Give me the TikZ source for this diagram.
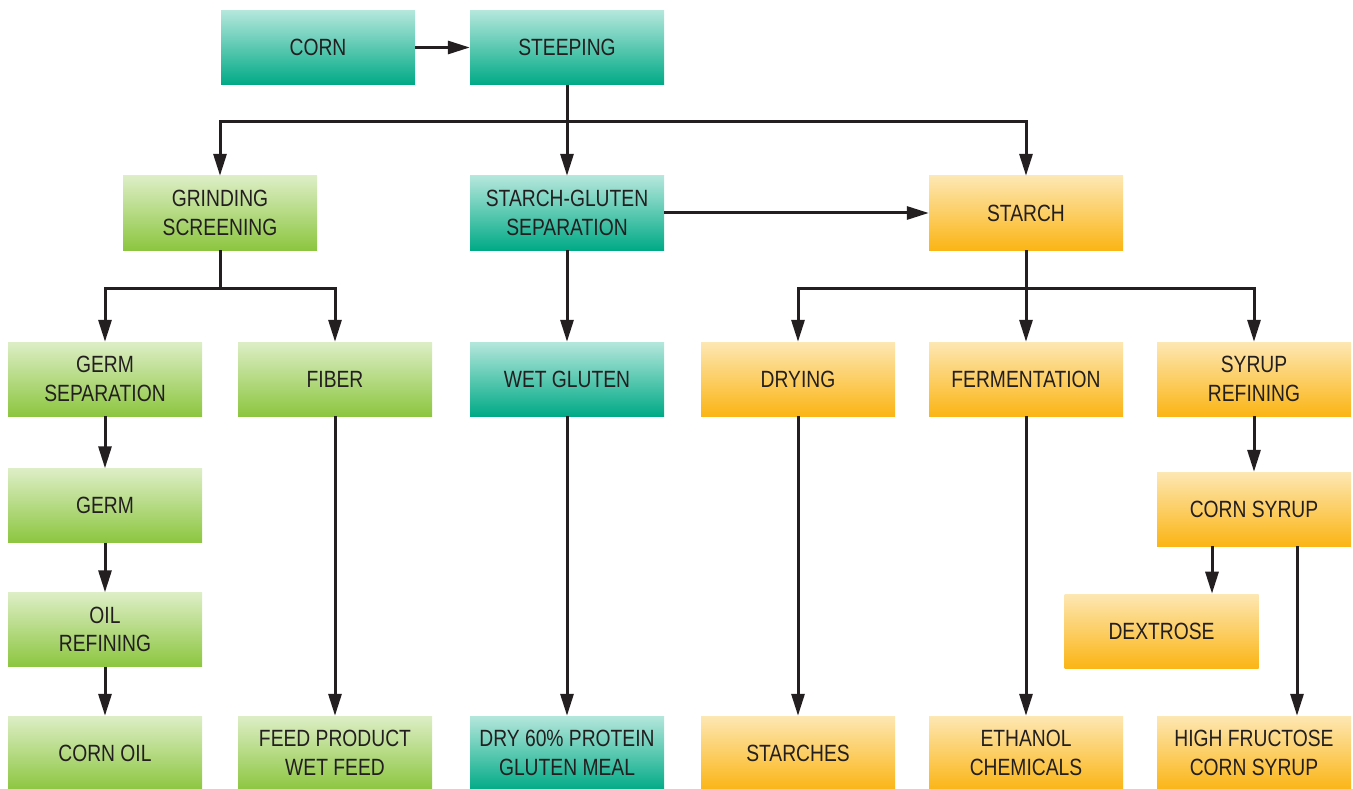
\documentclass[tikz,border=0pt]{standalone}
\usepackage{fontspec}
\setmainfont{Liberation Sans}[FakeStretch=0.82]
\usetikzlibrary{arrows.meta,positioning}
\definecolor{ink}{HTML}{231F20}
\definecolor{tealtop}{HTML}{B4E7DC}
\definecolor{tealbot}{HTML}{00AA86}
\definecolor{greentop}{HTML}{DDEEC6}
\definecolor{greenbot}{HTML}{8CC63F}
\definecolor{orangetop}{HTML}{FDE7B2}
\definecolor{orangebot}{HTML}{FBB515}
\tikzset{
  box/.style={minimum width=194pt,minimum height=74pt,inner sep=0pt,
    align=center,text=ink,font=\fontsize{23.5}{28.5}\selectfont},
  tealbox/.style={box,top color=tealtop,bottom color=tealbot},
  greenbox/.style={box,top color=greentop,bottom color=greenbot},
  orangebox/.style={box,top color=orangetop,bottom color=orangebot},
  link/.style={draw=ink,line width=3pt,miter limit=4},
  arr/.style={link,-{Triangle[length=22pt,width=13pt]}}
}
\begin{document}
\begin{tikzpicture}[x=1pt,y=-1pt]
\useasboundingbox (0,0) rectangle (1353,789);
% row 1
\node[tealbox] (corn) at (318,47.5) {CORN};
\node[tealbox] (steep) at (567,47.5) {STEEPING};
% row 2
\node[greenbox] (grind) at (220,213) {GRINDING\\SCREENING};
\node[tealbox] (sgs) at (567,213) {STARCH-GLUTEN\\SEPARATION};
\node[orangebox] (starch) at (1026,213) {STARCH};
% row 3
\node[greenbox] (germsep) at (105,379) {GERM\\SEPARATION};
\node[greenbox] (fiber) at (335,379) {FIBER};
\node[tealbox] (wetg) at (567,379) {WET GLUTEN};
\node[orangebox] (drying) at (798,379) {DRYING};
\node[orangebox] (ferm) at (1026,379) {FERMENTATION};
\node[orangebox] (syrup) at (1254,379) {SYRUP\\REFINING};
% left column and syrup branch
\node[greenbox] (germ) at (105,505.5) {GERM};
\node[greenbox] (oilref) at (105,629.5) {OIL\\REFINING};
\node[orangebox] (cornsyrup) at (1254,509) {CORN SYRUP};
\node[orangebox] (dextrose) at (1161.5,631) {DEXTROSE};
% bottom row
\node[greenbox] (cornoil) at (105,753) {CORN OIL};
\node[greenbox] (feed) at (335,753) {FEED PRODUCT\\WET FEED};
\node[tealbox] (meal) at (567,753) {DRY 60\% PROTEIN\\GLUTEN MEAL};
\node[orangebox] (starches) at (798,753) {STARCHES};
\node[orangebox] (ethanol) at (1026,753) {ETHANOL\\CHEMICALS};
\node[orangebox] (hfcs) at (1254,753) {HIGH FRUCTOSE\\CORN SYRUP};

% bus junctions
\coordinate (bus1) at (567,122);
\coordinate (bus2) at (220,288);
\coordinate (bus3) at (1026,288);

% connectors
\draw[arr] (corn) -- (steep);
\draw[arr] (steep.south) -- (sgs.north);
\draw[arr] (bus1) -| (grind.north);
\draw[arr] (bus1) -| (starch.north);
\draw[arr] (sgs) -- (starch);
\draw[link] (grind.south) -- (bus2);
\draw[arr] (bus2) -| (germsep.north);
\draw[arr] (bus2) -| (fiber.north);
\draw[arr] (sgs) -- (wetg);
\draw[link] (starch.south) -- (bus3);
\draw[arr] (bus3) -| (drying.north);
\draw[arr] (bus3) -- (ferm.north);
\draw[arr] (bus3) -| (syrup.north);
\draw[arr] (germsep) -- (germ);
\draw[arr] (germ) -- (oilref);
\draw[arr] (oilref) -- (cornoil);
\draw[arr] (fiber) -- (feed);
\draw[arr] (wetg) -- (meal);
\draw[arr] (drying) -- (starches);
\draw[arr] (ferm) -- (ethanol);
\draw[arr] (syrup) -- (cornsyrup);
\draw[arr] (cornsyrup.south -| dextrose.north) ++(50.5,0) -- ++(0,47.5);
\draw[arr] (cornsyrup.south) ++(43,0) -- (hfcs.north -| 1297,0);
\end{tikzpicture}
\end{document}
